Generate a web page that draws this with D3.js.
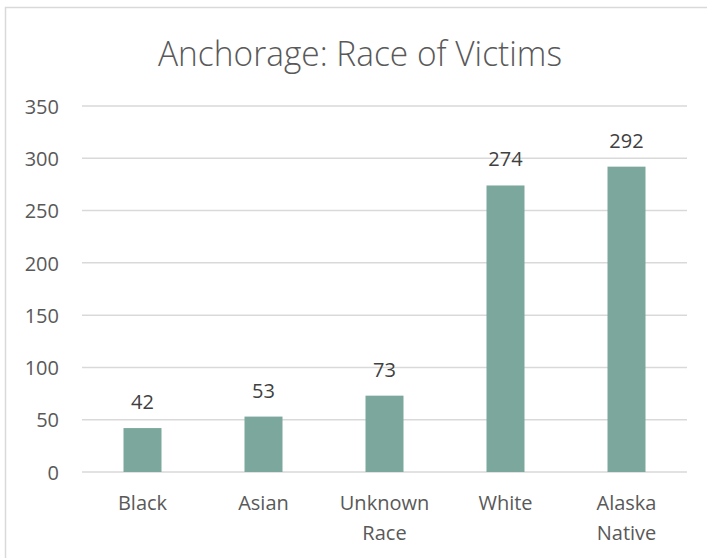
<!DOCTYPE html>
<html>
<head>
<meta charset="utf-8">
<script src="https://cdn.jsdelivr.net/npm/d3@7"></script>
<style>
  body { margin: 0; background: #fff; }
  text { font-family: "Open Sans", "Noto Sans", sans-serif; fill: #595959; }
</style>
</head>
<body>
<div id="chart"></div>
<script>
// data
var categories = ["Black", "Asian", "Unknown Race", "White", "Alaska Native"];
var victims = [42, 53, 73, 274, 292];
var yTicks = [0, 50, 100, 150, 200, 250, 300, 350];

var W = 707, H = 558;
// plot area
var margin = { top: 106, right: 20, bottom: 86, left: 82 },
  width = 687 - margin.left,
  height = 472 - margin.top;

var svg = d3.select("#chart")
  .append("svg")
  .attr("width", W)
  .attr("height", H);

// chart border (runs off the right and bottom edges)
svg.append("rect")
  .attr("x", 5.5)
  .attr("y", 7.5)
  .attr("width", 760)
  .attr("height", 620)
  .attr("fill", "none")
  .attr("stroke", "#d9d9d9")
  .attr("stroke-width", 1.5);

// title
svg.append("text")
  .attr("x", 360)
  .attr("y", 66)
  .attr("text-anchor", "middle")
  .style("font-size", "35px")
  .style("font-weight", 300)
  .attr("textLength", 404)
  .attr("lengthAdjust", "spacingAndGlyphs")
  .text("Anchorage: Race of Victims");

var g = svg.append("g")
  .attr("transform", "translate(" + margin.left + "," + margin.top + ")");

var x = d3.scaleBand()
  .domain(categories)
  .range([0, width])
  .paddingInner(0.686)
  .paddingOuter(0.343);

var y = d3.scaleLinear()
  .domain([0, 350])
  .range([height, 0]);

// gridlines
g.append("g")
  .selectAll("line")
  .data(yTicks)
  .enter()
  .append("line")
  .attr("x1", 0)
  .attr("x2", width)
  .attr("y1", function (d) { return y(d); })
  .attr("y2", function (d) { return y(d); })
  .attr("stroke", "#d9d9d9")
  .attr("stroke-width", 1.5);

// y axis labels
var yAxis = g.append("g")
  .call(d3.axisLeft(y).tickValues(yTicks).tickSize(0).tickPadding(23));
yAxis.select(".domain").remove();
yAxis.selectAll("text")
  .style("font-size", "20px")
  .style("font-family", "\"Open Sans\", sans-serif")
  .attr("fill", "#595959")
  .attr("dy", "0.36em");

// bars
g.selectAll("rect.bar")
  .data(categories)
  .enter()
  .append("rect")
  .attr("class", "bar")
  .attr("x", function (d) { return x(d); })
  .attr("width", x.bandwidth())
  .attr("y", function (d, i) { return y(victims[i]); })
  .attr("height", function (d, i) { return height - y(victims[i]); })
  .attr("fill", "#7ba79d");

// value labels
g.selectAll("text.value")
  .data(categories)
  .enter()
  .append("text")
  .attr("class", "value")
  .attr("x", function (d) { return x(d) + x.bandwidth() / 2; })
  .attr("y", function (d, i) { return y(victims[i]) - 19; })
  .attr("text-anchor", "middle")
  .style("font-size", "20px")
  .style("fill", "#404040")
  .text(function (d, i) { return victims[i]; });

// category labels, wrapped on spaces
g.selectAll("text.cat")
  .data(categories)
  .enter()
  .append("text")
  .attr("class", "cat")
  .attr("text-anchor", "middle")
  .style("font-size", "20px")
  .each(function (d) {
    var t = d3.select(this);
    var cx = x(d) + x.bandwidth() / 2;
    d.split(" ").forEach(function (w, i) {
      t.append("tspan")
        .attr("x", cx)
        .attr("y", height + 38 + i * 30)
        .text(w);
    });
  });
</script>
</body>
</html>
